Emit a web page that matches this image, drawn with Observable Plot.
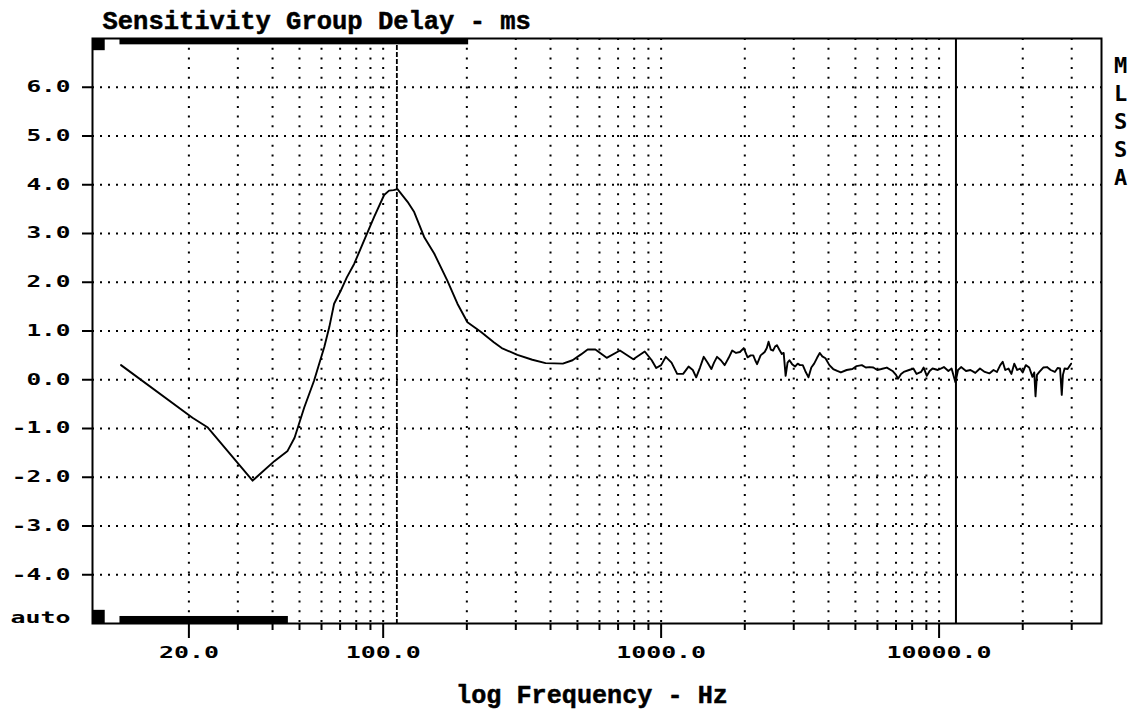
<!DOCTYPE html>
<html><head><meta charset="utf-8">
<script src="https://cdn.jsdelivr.net/npm/d3@7"></script>
<script src="https://cdn.jsdelivr.net/npm/@observablehq/plot@0.6"></script>
<style>
html,body{margin:0;padding:0;background:#fff;}
#chart svg{display:block;}
</style></head><body><div id="chart"></div>
<script>
// ---- data ----
const freq = [11.4,20.6,23.4,33.9,40.6,45.3,48.0,52.0,56.4,61.4,64.0,66.6,70.4,74.0,78.7,85.4,92.8,100.8,105,109,112.6,122.4,129.3,140.4,152.6,170,185,201,225,250,267,304,344,384,443,480,515,544,580,637,711,794,873,925,960,1000,1039,1090,1142,1200,1255,1300,1337,1380,1423,1470,1516,1550,1589,1640,1693,1750,1802,1860,1921,1983,2047,2100,2145,2180,2214,2280,2358,2400,2435,2480,2528,2570,2610,2660,2718,2760,2805,2850,2895,2960,3033,3100,3160,3233,3300,3390,3470,3552,3640,3722,3800,3901,4030,4159,4300,4433,4650,4876,5050,5273,5450,5621,5800,5992,6200,6485,6800,7000,7116,7300,7463,7800,8082,8300,8615,8800,9034,9250,9472,9900,10408,10800,11090,11450,11700,12000,12500,12970,13500,14030,14600,15170,15700,16150,16600,16940,17300,17770,18200,18640,19100,19550,20000,20510,21100,21670,22000,22230,22500,22950,23700,24450,25200,26100,26700,27240,27630,27900,28280,29000,29850];
const delay = [0.30,-0.78,-0.98,-2.07,-1.67,-1.46,-1.19,-0.57,-0.02,0.67,1.08,1.56,1.83,2.10,2.38,2.86,3.34,3.79,3.88,3.89,3.91,3.65,3.44,2.93,2.59,2.04,1.56,1.18,0.98,0.77,0.65,0.51,0.41,0.34,0.33,0.40,0.52,0.62,0.62,0.45,0.60,0.42,0.58,0.40,0.24,0.30,0.47,0.35,0.12,0.12,0.27,0.20,0.05,0.25,0.47,0.35,0.22,0.35,0.47,0.40,0.30,0.45,0.60,0.55,0.57,0.65,0.46,0.50,0.50,0.40,0.32,0.50,0.57,0.65,0.78,0.62,0.60,0.68,0.71,0.62,0.53,0.55,0.08,0.35,0.40,0.32,0.27,0.33,0.30,0.30,0.18,0.05,0.25,0.33,0.45,0.55,0.48,0.44,0.30,0.22,0.18,0.15,0.20,0.22,0.28,0.30,0.25,0.26,0.25,0.20,0.22,0.25,0.18,0.10,0.02,0.12,0.16,0.20,0.23,0.12,0.16,0.25,0.08,0.18,0.23,0.20,0.26,0.18,0.23,-0.05,0.20,0.26,0.18,0.20,0.14,0.23,0.16,0.13,0.20,0.16,0.30,0.37,0.20,0.23,0.12,0.33,0.20,0.23,0.15,0.30,0.25,0.06,0.15,-0.34,0.10,0.16,0.25,0.26,0.20,0.16,0.24,0.23,-0.31,0.10,0.23,0.22,0.33];

const yTicks = [6,5,4,3,2,1,0,-1,-2,-3,-4];
const xMajor = [20,100,1000,10000];
const xMinor = [30,40,50,60,70,80,90,200,300,400,500,600,700,800,900,2000,3000,4000,5000,6000,7000,8000,9000,20000,30000];
const xGridLines = [...xMajor, ...xMinor];
const cursorHz = [112];
const markerHz = [11500];
const xDomain = [9, 38400];
const yDomain = [-5, 7];
const titleText = "Sensitivity Group Delay - ms";
const xLabelText = "log Frequency - Hz";
const sideText = ["M","L","S","S","A"];
const autoText = "auto";
// scroll-indicator bars of the analyser screen (in data units)
const barX1 = [9, 11.3, 9, 11.3];
const barX2 = [10, 203, 10, 45.6];
const barY1 = [6.75, 6.87, -5, -5];
const barY2 = [7, 7, -4.73, -4.856];

const points = freq.map((f, i) => ({f, d: delay[i]}));
const bars = barX1.map((x1, i) => ({x1, x2: barX2[i], y1: barY1[i], y2: barY2[i]}));

const sans = "DejaVu Sans Mono";
const serif = "Liberation Mono";

const chart = Plot.plot({
  width: 1139, height: 712,
  marginLeft: 92, marginRight: 38, marginTop: 38, marginBottom: 89,
  style: {background: "#fff", color: "#000"},
  x: {type: "log", domain: xDomain, label: null},
  y: {domain: yDomain, label: null},
  marks: [
    Plot.gridY(yTicks, {stroke: "#000", strokeOpacity: 1, strokeWidth: 2, strokeDasharray: "2,6"}),
    Plot.gridX(xGridLines, {stroke: "#000", strokeOpacity: 1, strokeWidth: 2, strokeDasharray: "2,7.7"}),
    Plot.ruleX(cursorHz, {stroke: "#000", strokeWidth: 1.8, strokeDasharray: "5,2"}),
    Plot.ruleX(markerHz, {stroke: "#000", strokeWidth: 2}),
    Plot.rect(bars, {x1: "x1", x2: "x2", y1: "y1", y2: "y2", fill: "#000"}),
    Plot.line(points, {x: "f", y: "d", stroke: "#000", strokeWidth: 1.9}),
    Plot.frame({stroke: "#000", strokeWidth: 2}),
    Plot.axisY(yTicks, {tickSize: 10, tickPadding: 12, strokeWidth: 2, tickFormat: d => d.toFixed(1),
      fontFamily: sans, fontWeight: "bold", fontSize: 15, label: null, className: "ylab"}),
    Plot.axisX(xMajor, {tickSize: 15, tickPadding: 9, strokeWidth: 2, tickFormat: d => d.toFixed(1),
      fontFamily: sans, fontWeight: "bold", fontSize: 15, label: null, className: "xlab"}),
    Plot.axisX(xMinor, {tickSize: 7, strokeWidth: 2, fill: "none", label: null}),
    Plot.text([autoText], {frameAnchor: "bottom-left", dx: -22, dy: -1, textAnchor: "end", lineAnchor: "bottom",
      fontFamily: sans, fontWeight: "bold", fontSize: 15, fill: "#000", className: "autolab"}),
    Plot.text([titleText], {frameAnchor: "top-left", dx: 10, dy: -10, textAnchor: "start", lineAnchor: "bottom",
      fontFamily: serif, fontWeight: "bold", fontSize: 26, fill: "#000", stroke: "#000", strokeWidth: 0.5, className: "titlelab"}),
    Plot.text([xLabelText], {frameAnchor: "bottom", dx: -5, dy: 79, textAnchor: "middle", lineAnchor: "bottom",
      fontFamily: serif, fontWeight: "bold", fontSize: 26, fill: "#000", stroke: "#000", strokeWidth: 0.5, className: "xname"}),
    Plot.text([sideText.join("\n")], {frameAnchor: "top-right", dx: 19, dy: 15, textAnchor: "middle", lineAnchor: "top",
      lineHeight: 1.27, fontFamily: sans, fontWeight: "bold", fontSize: 22, fill: "#000"})
  ]
});

// widen the glyphs like the analyser's bitmap font (style only)
function stretch(sel, perChar) {
  chart.querySelectorAll(sel).forEach(t => {
    const n = t.textContent.length;
    t.setAttribute("textLength", (n * perChar).toFixed(1));
    t.setAttribute("lengthAdjust", "spacingAndGlyphs");
  });
}
stretch('.ylab text', 14.7);
stretch('.xlab text', 15);
stretch('.autolab text', 15);
stretch('.titlelab text', 15.3);
stretch('.xname text', 15.1);
document.getElementById("chart").appendChild(chart);
</script></body></html>
